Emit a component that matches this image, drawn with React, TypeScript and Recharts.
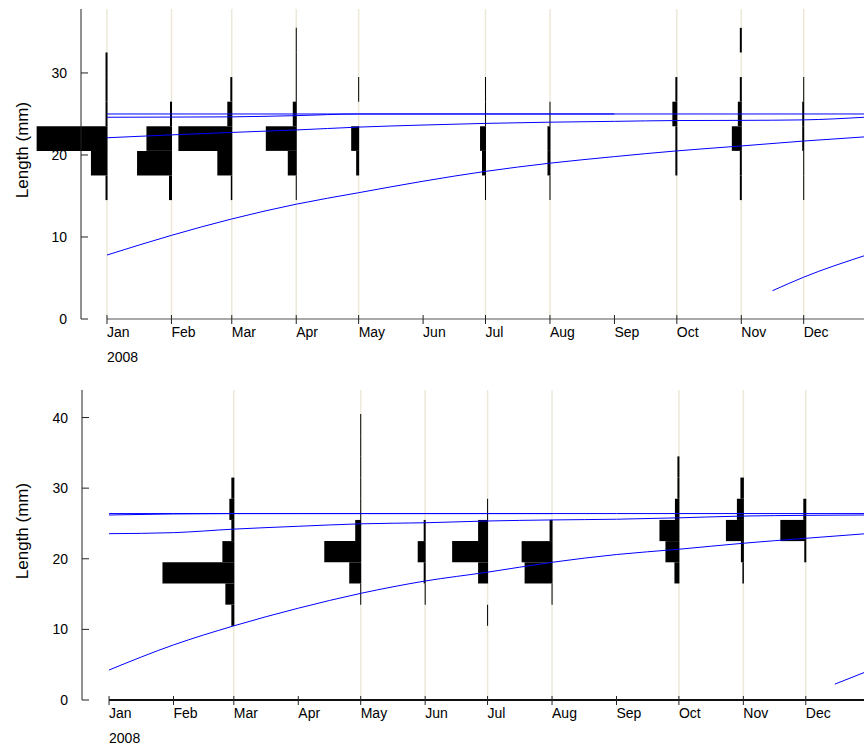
import { ComposedChart, XAxis, YAxis, Line, ReferenceArea, ReferenceLine, Label } from 'recharts'

const MONTHS = ['Jan', 'Feb', 'Mar', 'Apr', 'May', 'Jun', 'Jul', 'Aug', 'Sep', 'Oct', 'Nov', 'Dec']
const MONTH_START = [0, 31, 60, 91, 121, 152, 182, 213, 244, 274, 305, 335]
const YEAR = '2008'
const CURVE_DAYS = [0, 31, 60, 91, 121, 152, 182, 213, 244, 274, 305, 335, 364]

// top panel: length-frequency samples (3 mm classes, lower edges)
const topBins = [14.5, 17.5, 20.5, 23.5, 26.5, 29.5, 32.5]
const topSampleDays = [0, 31, 60, 91, 121, 182, 213, 274, 305, 335]
const topFreq = [
  [2, 16.6, 71, 2, 2, 2, 0],
  [3, 35, 25.6, 2, 0, 0, 0],
  [1.5, 15, 54, 5, 2, 0, 0],
  [1, 9, 31, 4, 1, 1, 1],
  [0, 3, 8, 0, 1, 0, 0],
  [1, 4, 6, 1, 1, 0, 0],
  [1, 3, 3, 1, 0, 0, 0],
  [0, 2, 2, 5, 2, 0, 0],
  [2, 2, 10, 4, 2, 0, 2],
  [1, 1, 2, 2, 1, 0, 0],
]
// top panel: growth curves
const topCohortA = [25.0, 25.0, 25.0, 25.0, 25.0, 25.0, 25.0, 25.0, 25.0, 25.0, 25.0, 25.0, 25.0]
const topCohortB = [24.6, 24.62, 24.65, 24.8, 25.0, 25.0, 25.0, 25.0, 25.0]
const topCohortC = [22.1, 22.45, 22.75, 23.05, 23.4, 23.65, 23.85, 24.0, 24.1, 24.2, 24.22, 24.28, 24.6]
const topCohortD = [7.8, 10.2, 12.2, 14.0, 15.4, 16.8, 18.0, 19.0, 19.8, 20.5, 21.1, 21.7, 22.2]
const topRecruitDays = [320, 335, 364]
const topRecruit = [3.45, 5.1, 7.7]

// bottom panel
const botBins = [10.5, 13.5, 16.5, 19.5, 22.5, 25.5, 28.5, 31.5, 34.5, 37.5]
const botSampleDays = [60, 121, 152, 182, 213, 274, 305, 335]
const botFreq = [
  [3, 9, 72, 12, 3, 5, 3, 0, 0, 0],
  [0, 1, 12, 37, 6, 1, 1, 1, 1, 1],
  [0, 1, 2, 8, 2, 0, 0, 0, 0, 0],
  [1, 0, 10, 36, 10, 1, 0, 0, 0, 0],
  [0, 1, 28, 31, 3, 0, 0, 0, 0, 0],
  [0, 0, 5, 14, 20, 4.5, 2, 2, 0, 0],
  [0, 0, 1.5, 3, 18, 7, 3.5, 0, 0, 0],
  [0, 0, 0, 2, 26, 3, 0, 0, 0, 0],
]
const botCohortA = [26.4, 26.4, 26.4, 26.4, 26.4, 26.4, 26.4, 26.4, 26.4, 26.4, 26.4, 26.4, 26.4]
const botCohortB = [26.2, 26.35, 26.4, 26.4, 26.4, 26.4, 26.4, 26.4]
const botCohortC = [23.55, 23.7, 24.2, 24.6, 24.95, 25.1, 25.35, 25.5, 25.6, 25.8, 26.05, 26.15, 26.2]
const botCohortD = [4.25, 7.8, 10.5, 13.0, 15.1, 16.85, 18.1, 19.5, 20.6, 21.35, 22.2, 22.9, 23.55]
const botRecruitDays = [349, 364]
const botRecruit = [2.25, 4.0]

const BIN = 3
const DAYS_PER_FREQ = 0.48
const EDGE = 0.25
const FONT = '"Liberation Sans", Arial, sans-serif'
const BLUE = '#0000ff'

const toPts = (days: number[], vals: number[]) => vals.map((v, i) => ({ t: days[i], v }))

function MonthTick(props: any) {
  const { x, y, payload } = props
  const i = MONTH_START.indexOf(payload.value)
  return (
    <g>
      <line x1={x} y1={y - 4} x2={x} y2={y + 5} stroke="#222" />
      <text x={x} y={y + 18} fontSize={14} fontFamily={FONT} fill="#000" textAnchor="start">{MONTHS[i]}</text>
      {i === 0 && (
        <text x={x} y={y + 43} fontSize={14} fontFamily={FONT} fill="#000" textAnchor="start">{YEAR}</text>
      )}
    </g>
  )
}

function LengthTick(props: any) {
  const { x, y, payload } = props
  return (
    <g>
      <line x1={x} y1={y} x2={x + 7} y2={y} stroke="#222" />
      <text x={x - 14} y={y + 5} fontSize={14} fontFamily={FONT} fill="#000" textAnchor="end">{payload.value}</text>
    </g>
  )
}

function renderTitle(props: any) {
  const vb = props.viewBox
  const x = vb.x + 22
  const y = vb.y + vb.height / 2 - 14
  return (
    <text x={x} y={y} transform={`rotate(-90 ${x} ${y})`} textAnchor="middle" dominantBaseline="central"
      fontSize={17} fontFamily={FONT} fill="#000">Length (mm)</text>
  )
}

type PanelProps = {
  height: number
  top: number
  bottom: number
  yWidth: number
  xDomain: [number, number]
  yMax: number
  yTicks: number[]
  bins: number[]
  sampleDays: number[]
  freq: number[][]
  curves: { days: number[]; vals: number[] }[]
  axisStroke: string
  axisWidth: number
}

// histograms, sample dates and axes
function HistogramLayer(p: PanelProps) {
  const bars = p.sampleDays.flatMap((t, i) =>
    p.freq[i].map((f, j) => ({ t, f, lo: p.bins[j], key: `${t}-${j}` })).filter(b => b.f > 0))
  return (
    <ComposedChart width={864} height={p.height} margin={{ top: p.top, right: 0, left: 0, bottom: p.bottom }}>
      <XAxis type="number" dataKey="t" domain={p.xDomain} allowDataOverflow ticks={MONTH_START}
        axisLine={false} tickLine={false} tickSize={0} tickMargin={0} height={40} tick={<MonthTick />} interval={0} />
      <YAxis type="number" dataKey="v" domain={[0, p.yMax]} allowDataOverflow ticks={p.yTicks} width={p.yWidth}
        axisLine={{ stroke: '#222' }} tickLine={false} tickSize={0} tickMargin={0} tick={<LengthTick />} interval={0}>
        <Label content={renderTitle} />
      </YAxis>
      {p.sampleDays.map(t => (
        <ReferenceLine key={`s${t}`} x={t} stroke="#ECE9D8" strokeWidth={1.5} zIndex={-10} />
      ))}
      <ReferenceLine segment={[{ x: 0, y: 0 }, { x: p.xDomain[1], y: 0 }]} stroke={p.axisStroke}
        strokeWidth={p.axisWidth} ifOverflow="visible" zIndex={450} />
      {bars.map(b => (
        <ReferenceArea key={b.key} x1={b.t + EDGE - b.f * DAYS_PER_FREQ} x2={b.t + EDGE} y1={b.lo} y2={b.lo + BIN}
          fill="#000" fillOpacity={1} stroke="none" ifOverflow="visible" zIndex={200} />
      ))}
    </ComposedChart>
  )
}

// growth curves, drawn in an identical chart laid over the histograms
function CurveLayer(p: PanelProps) {
  return (
    <ComposedChart width={864} height={p.height} margin={{ top: p.top, right: 0, left: 0, bottom: p.bottom }}>
      <XAxis type="number" dataKey="t" domain={p.xDomain} allowDataOverflow ticks={MONTH_START}
        axisLine={false} tickLine={false} tick={false} height={40} />
      <YAxis type="number" dataKey="v" domain={[0, p.yMax]} allowDataOverflow ticks={p.yTicks} width={p.yWidth}
        axisLine={false} tickLine={false} tick={false} />
      {p.curves.map((c, i) => (
        <Line key={`c${i}`} data={toPts(c.days, c.vals)} dataKey="v" type="monotone" stroke={BLUE} strokeWidth={1}
          dot={false} activeDot={false} isAnimationActive={false} />
      ))}
    </ComposedChart>
  )
}

function Panel(p: PanelProps & { y: number }) {
  return (
    <>
      <div style={{ position: 'absolute', left: 0, top: p.y }}>
        <HistogramLayer {...p} />
      </div>
      <div style={{ position: 'absolute', left: 0, top: p.y }}>
        <CurveLayer {...p} />
      </div>
    </>
  )
}

export default function App() {
  return (
    <div style={{ position: 'absolute', left: 0, top: 0, width: 864, height: 748, overflow: 'hidden', background: '#fff' }}>
      <Panel y={0} height={370} top={9} bottom={11} yWidth={81} xDomain={[-12.5, 364]} yMax={37.8} yTicks={[0, 10, 20, 30]}
        bins={topBins} sampleDays={topSampleDays} freq={topFreq} axisStroke="#555" axisWidth={1}
        curves={[
          { days: CURVE_DAYS, vals: topCohortA },
          { days: CURVE_DAYS, vals: topCohortB },
          { days: CURVE_DAYS, vals: topCohortC },
          { days: CURVE_DAYS, vals: topCohortD },
          { days: topRecruitDays, vals: topRecruit },
        ]} />
      <Panel y={370} height={378} top={20} bottom={8} yWidth={82} xDomain={[-13, 363]} yMax={43.9} yTicks={[0, 10, 20, 30, 40]}
        bins={botBins} sampleDays={botSampleDays} freq={botFreq} axisStroke="#111" axisWidth={2}
        curves={[
          { days: CURVE_DAYS, vals: botCohortA },
          { days: CURVE_DAYS, vals: botCohortB },
          { days: CURVE_DAYS, vals: botCohortC },
          { days: CURVE_DAYS, vals: botCohortD },
          { days: botRecruitDays, vals: botRecruit },
        ]} />
    </div>
  )
}
